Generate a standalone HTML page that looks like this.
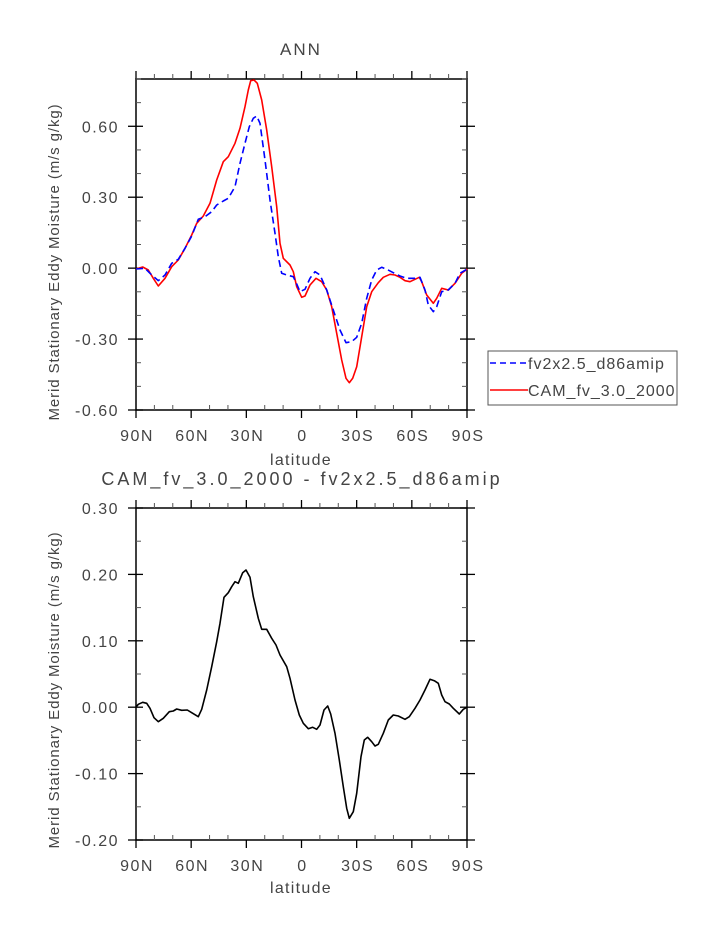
<!DOCTYPE html>
<html><head><meta charset="utf-8"><style>
body{margin:0;background:#fff}
text{font-family:"Liberation Sans","DejaVu Sans",sans-serif;fill:#444}
</style></head><body>
<svg id="s" width="723" height="935" xmlns="http://www.w3.org/2000/svg">
<text x="301" y="55" font-size="17" text-anchor="middle" letter-spacing="2">ANN</text>
<text x="302" y="485" font-size="18" text-anchor="middle" letter-spacing="3">CAM_fv_3.0_2000 - fv2x2.5_d86amip</text>
<text transform="translate(59,262) rotate(-90)" font-size="15" text-anchor="middle" letter-spacing="0.9">Merid Stationary Eddy Moisture (m/s g/kg)</text>
<text transform="translate(59,690) rotate(-90)" font-size="15" text-anchor="middle" letter-spacing="0.9">Merid Stationary Eddy Moisture (m/s g/kg)</text>
<text x="301" y="465" font-size="16" text-anchor="middle" letter-spacing="1.3">latitude</text>
<text x="301" y="893" font-size="16" text-anchor="middle" letter-spacing="1.3">latitude</text>
<rect x="488" y="351" width="189" height="54" fill="none" stroke="#555" stroke-width="1"/>
<line x1="490" y1="363" x2="528" y2="363" stroke="#00f" stroke-width="1.5" stroke-dasharray="6,4"/>
<line x1="490" y1="390" x2="528" y2="390" stroke="#f00" stroke-width="1.5"/>
<text x="528" y="369" font-size="16" letter-spacing="1">fv2x2.5_d86amip</text>
<text x="528" y="396" font-size="16" letter-spacing="1">CAM_fv_3.0_2000</text>
<g id="g"></g>
</svg>
<script>
var g=document.getElementById('g'),h='';
function L(x1,y1,x2,y2,c,w){h+='<line x1="'+x1+'" y1="'+y1+'" x2="'+x2+'" y2="'+y2+'" stroke="'+(c||'#000')+'" stroke-width="'+(w||1.3)+'"/>';}
function T(x,y,s,a){h+='<text x="'+x+'" y="'+y+'" font-size="16" letter-spacing="1.5" text-anchor="'+(a||'middle')+'">'+s+'</text>';}
function frame(top,bot,yl){
 var l=136,r=467;
 h+='<rect x="'+l+'" y="'+top+'" width="'+(r-l)+'" height="'+(bot-top)+'" fill="none" stroke="#000" stroke-width="1.5"/>';
 var labs=['90N','60N','30N','0','30S','60S','90S'];
 for(var i=0;i<=18;i++){var x=l+(r-l)*i/18;
  if(i%3==0){L(x,top-8,x,top+0);L(x,bot,x,bot+8);T(x+1,bot+31,labs[i/3]);}
  else{L(x,top,x,top-5,'#555',1);L(x,bot,x,bot-5,'#555',1);}}
 for(var j=0;j<yl.length;j++){var y=yl[j][0];
  if(yl[j][1]){L(l-8,y,l+7,y);L(r-7,y,r+8,y);T(l-17,y+6,yl[j][1],'end');}
  else{L(l,y,l+5,y,'#555',1);L(r-5,y,r,y,'#555',1);}}
}
var y1=[];for(var k=0;k<=14;k++){var v=-0.6+0.1*k;var y=410-(v+0.6)/1.4*331;y1.push([y,(k%3==0)?(v<-0.001?'-':'')+Math.abs(v).toFixed(2):null]);}
frame(79,410,y1);
var y2=[];for(var k=0;k<=10;k++){var v=-0.2+0.05*k;var y=840-(v+0.2)/0.5*332;y2.push([y,(k%2==0)?(v<-0.001?'-':'')+Math.abs(v).toFixed(2):null]);}
frame(508,840,y2);
function P(pts,ox,oy,c,d){var s='';for(var i=0;i<pts.length;i+=2)s+=(i?'L':'M')+(ox+pts[i]/3).toFixed(1)+','+(oy+pts[i+1]/3).toFixed(1);
 h+='<path d="'+s+'" fill="none" stroke="'+c+'" stroke-width="1.6" stroke-linejoin="round"'+(d?' stroke-dasharray="7,4"':'')+'/>';}
var red=[108,627,128,621,145,630,160,655,175,678,195,655,215,620,235,600,255,565,275,525,290,490,310,468,330,430,350,360,370,305,385,290,405,250,420,205,435,140,445,90,452,62,462,60,472,70,485,120,500,210,515,320,530,440,540,550,550,595,570,615,580,635,590,680,605,712,615,708,630,675,648,655,665,665,680,690,695,740,710,820,725,900,738,955,748,968,758,955,770,920,785,830,800,740,815,695,835,668,850,652,870,643,885,645,900,652,915,662,930,665,945,658,958,652,965,665,980,705,1000,730,1010,715,1025,685,1045,690,1065,670,1085,640,1102,627];
var blue=[108,627,135,625,150,640,175,662,195,645,215,610,235,598,255,565,275,528,295,478,315,470,335,455,350,435,370,423,385,415,405,380,420,310,435,250,448,200,460,175,470,168,480,190,495,300,510,420,525,520,535,590,545,640,560,645,580,650,590,672,600,695,615,688,630,655,645,635,660,645,680,690,700,750,720,810,738,848,755,845,770,832,785,790,800,715,815,660,830,630,845,622,860,628,880,638,900,648,920,655,945,655,960,652,975,690,985,735,1000,755,1010,740,1025,695,1045,690,1065,670,1080,640,1102,627];
var blk=[108,651,115,643,128,637,140,640,150,655,162,683,175,695,190,685,208,665,220,663,230,657,245,661,262,660,275,668,295,680,305,658,320,600,335,530,350,455,360,400,372,322,385,308,395,290,405,275,415,280,428,248,438,240,450,262,460,320,475,385,485,418,500,418,515,445,528,465,540,495,560,530,570,565,585,630,598,675,610,700,625,716,638,712,650,718,660,705,672,660,683,648,692,672,705,730,718,810,730,890,740,955,748,985,760,965,770,910,783,800,793,750,803,742,815,755,825,768,835,763,850,730,865,690,880,675,895,678,915,688,928,680,945,655,960,630,975,600,990,568,1003,572,1015,580,1025,615,1035,635,1048,642,1060,655,1078,672,1090,658,1102,651];
P(red,100,60,'#f00');P(blue,100,60,'#00f',1);P(blk,100,490,'#000');
g.innerHTML=h;
</script>
</body></html>
